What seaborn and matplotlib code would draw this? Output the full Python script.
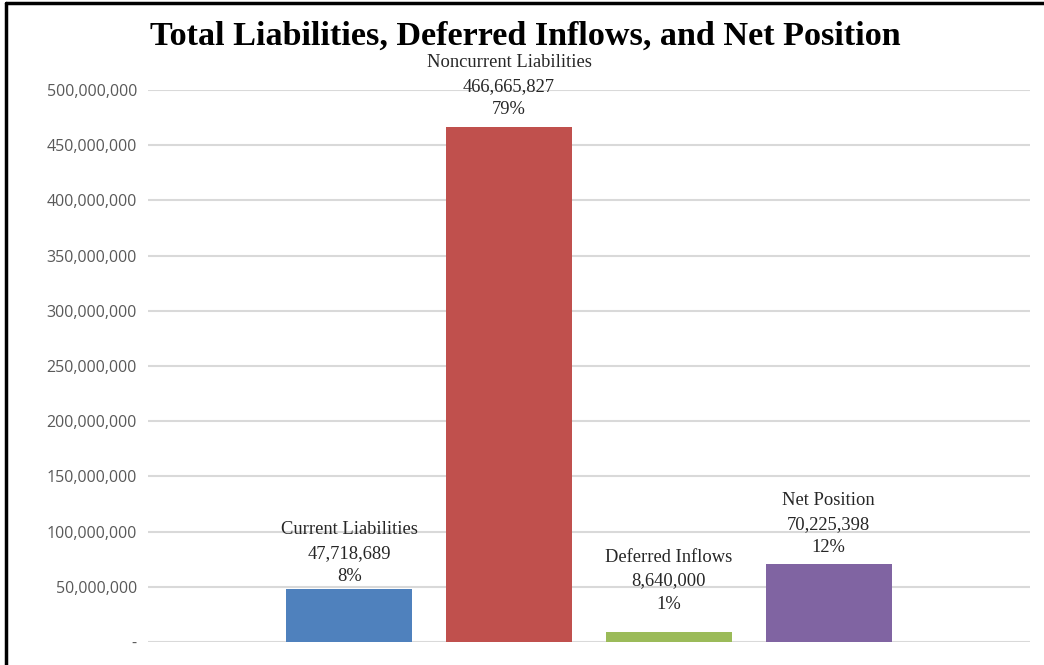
import matplotlib
matplotlib.use("Agg")
import matplotlib.pyplot as plt
import seaborn as sns
import pandas as pd
from matplotlib.lines import Line2D

categories = ["Current Liabilities", "Noncurrent Liabilities", "Deferred Inflows", "Net Position"]
values = [47718689, 466665827, 8640000, 70225398]
percents = ["8%", "79%", "1%", "12%"]
colors = ["#4f81bd", "#c0504d", "#9bbb59", "#8064a2"]
yticks = [0, 50e6, 100e6, 150e6, 200e6, 250e6, 300e6, 350e6, 400e6, 450e6, 500e6]
title = "Total Liabilities, Deferred Inflows, and Net Position"

sns.set_theme(style="white")
df = pd.DataFrame({"cat": categories, "val": values})

W, H = 1044, 665
fig = plt.figure(figsize=(W / 100, H / 100), dpi=100)
ax = fig.add_axes([148 / W, 23 / H, (1030 - 148) / W, (642 - 90) / H])

sns.barplot(data=df, x="cat", y="val", hue="cat", palette=colors, legend=False,
            width=0.79, saturation=1, ax=ax, zorder=3, linewidth=0)

ax.set_xlim(-1.26, 4.26)
ax.set_ylim(0, 500e6)
ax.set_yticks(yticks)
ax.set_yticklabels(["-"] + [f"{int(v):,}" for v in yticks[1:]],
                   fontsize=11.5, color="#595959", family="Open Sans")
ax.tick_params(axis="y", length=0, pad=8)
ax.set_xticks([])
ax.set_xlabel("")
ax.set_ylabel("")
for s in ax.spines.values():
    s.set_visible(False)
ax.yaxis.grid(True, color="#d9d9d9", linewidth=1.5, zorder=0)
ax.set_axisbelow(True)

offsets = [3, 6, 14, 6]
for i, (c, v, p) in enumerate(zip(categories, values, percents)):
    ax.annotate(f"{c}\n{v:,}\n{p}", xy=(i, v), xytext=(0, offsets[i]), textcoords="offset points",
                ha="center", va="bottom", fontsize=13.3, family="Liberation Serif",
                color="#262626", linespacing=1.5, annotation_clip=False)

fig.text(525 / W, 1 - 36 / H, title, ha="center", va="center", fontsize=24.6,
         fontweight="bold", family="Liberation Serif", color="black")

fig.add_artist(Line2D([6 / W, 6 / W], [0, 1 - 3 / H], transform=fig.transFigure,
                      color="black", linewidth=2.5))
fig.add_artist(Line2D([6 / W, 1], [1 - 3 / H, 1 - 3 / H], transform=fig.transFigure,
                      color="black", linewidth=2.5))

fig.savefig("out.png", dpi=100)
